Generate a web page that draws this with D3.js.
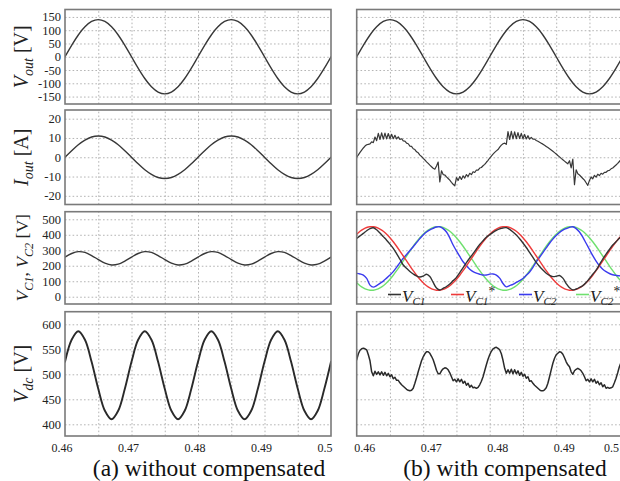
<!DOCTYPE html>
<html><head><meta charset="utf-8">
<script src="https://cdn.jsdelivr.net/npm/d3@7"></script>
<style>body{margin:0;background:#fff}svg{display:block}</style>
</head><body>
<svg id="c" width="620" height="481"></svg>
<script>
// ---------------- DATA ----------------
const xTickVals = [0.46, 0.47, 0.48, 0.49, 0.5];
const xTickLabels = ["0.46", "0.47", "0.48", "0.49", "0.5"];
const xGridVals = [0.465, 0.47, 0.475, 0.48, 0.485, 0.49, 0.495];

const yTicks = [
  [-150, -100, -50, 0, 50, 100, 150],
  [-20, -10, 0, 10, 20],
  [0, 100, 200, 300, 400, 500],
  [400, 450, 500, 550, 600]
];
const yTickLabels = [
  ["-150", "-100", "-50", "0", "50", "100", "150"],
  ["-20", "-10", "0", "10", "20"],
  ["0", "100", "200", "300", "400", "500"],
  ["400", "450", "500", "550", "600"]
];
const yDomains = [[-178, 178], [-24.5, 24.5], [-47, 549], [376.6, 625.2]];

// sample times (s)
const tCoarse = d3.range(41).map(i => 0.46 + i * 0.001);
const tMid = d3.range(81).map(i => 0.46 + i * 0.0005);
const tFine = d3.range(161).map(i => 0.46 + i * 0.00025);

// (a) without compensation
const vOutA = [0,43,82,113,133,140,133,113,82,43,0,-43,-82,-113,-133,-140,-133,-113,-82,-43,
  0,43,82,113,133,140,133,113,82,43,0,-43,-82,-113,-133,-140,-133,-113,-82,-43,0];
const iOutA = [0,3.4,6.5,8.9,10.5,11,10.5,8.9,6.5,3.4,0,-3.4,-6.5,-8.9,-10.5,-11,-10.5,-8.9,-6.5,-3.4,
  0,3.4,6.5,8.9,10.5,11,10.5,8.9,6.5,3.4,0,-3.4,-6.5,-8.9,-10.5,-11,-10.5,-8.9,-6.5,-3.4,0];
const vcA = [256,279,291,286,266,240,217,205,210,230, 256,279,291,286,266,240,217,205,210,230,
  256,279,291,286,266,240,217,205,210,230, 256,279,291,286,266,240,217,205,210,230, 256];
const vdcA = [525,569,586,569,525,471,427,410,427,471, 525,569,586,569,525,471,427,410,427,471,
  525,569,586,569,525,471,427,410,427,471, 525,569,586,569,525,471,427,410,427,471, 525];

// (b) with compensation
const vOutB = vOutA.slice();
const iOutB = [0,1.2,2.5,3.7,4.8,5.8,6.5,6.7,6.9,8.0,
  7.6,10.5,8.6,12.4,9.2,12.6,9.4,12.5,9.5,12.3,
  9.6,11.9,9.6,11.4,9.5,10.6,9.3,9.6,8.5,8.4,
  7.3,7.0,5.8,5.6,4.4,4.0,2.8,2.3,1.1,0.4,
  -0.6,-1.4,-2.4,-3.2,-4.1,-4.9,-5.7,-6.2,-4.5,-2.5,
  -12.8,-7.0,-9.0,-9.2,-10.2,-11.0,-11.9,-13.0,-14.0,-14.8,
  -10.5,-12.0,-10.0,-11.5,-9.6,-10.8,-9.0,-10.0,-8.3,-9.0,
  -7.5,-7.9,-6.6,-6.7,-5.6,-5.3,-4.4,-3.7,-2.6,-1.6,
  -0.4,
  0.6,1.6,2.5,3.3,4.0,5.2,6.3,7.0,7.3,6.7,
  13.3,9.2,13.4,9.5,13.2,9.6,12.8,9.7,12.4,9.6,
  11.8,9.5,11.2,9.4,10.3,9.4,9.4,8.7,8.3,7.8,
  7.3,6.8,6.2,5.6,5.0,4.4,3.8,3.1,2.4,1.7,
  0.9,0.2,-0.6,-1.3,-2.0,-2.7,-3.4,-1.8,-5.5,-1.0,
  -14.2,-6.5,-8.6,-9.2,-10.1,-11.0,-11.9,-13.2,-14.6,-12.0,
  -10.2,-11.2,-9.4,-10.3,-8.8,-9.5,-8.3,-8.8,-7.8,-7.8,
  -7.0,-6.8,-6.0,-5.6,-4.8,-4.0,-3.2,-2.2,-1.2,-0.2];

const vc1B = [377,393,409,426,440,445,432,411,388,365,340,312,278,242,205,183,163,147,134,127,
  133,145,130,92,56,43,54,66,82,104,125,155,188,220,250,278,308,338,362,384,400,
  415,428,438,444,446,435,418,398,374,347,318,286,254,222,195,172,152,138,130,132,
  137,120,85,58,44,50,60,72,92,118,145,172,207,243,275,305,334,355,377,395];
const vc1sB = [404,423,437,447,452,452,447,437,423,404,381,355,326,295,263,231,199,168,139,113,
  90,71,57,47,42,42,47,57,71,90,113,139,168,199,231,263,295,326,355,381,404,
  423,437,447,452,452,447,437,423,404,381,355,326,295,263,231,199,168,139,113,90,
  71,57,47,42,42,47,57,71,90,113,139,168,199,231,263,295,326,355,381,404];
const vc2B = [151,147,140,118,75,62,72,86,101,120,140,162,190,220,248,273,298,323,349,375,
  399,418,432,442,450,452,440,418,380,334,296,260,226,200,178,162,152,145,140,140,146,
  147,140,120,85,64,72,80,92,104,118,138,160,190,225,255,285,315,345,372,395,
  415,430,440,448,452,440,418,385,345,305,265,230,200,178,162,150,142,138,135,135];
const vc2sB = [90,71,57,47,42,42,47,57,71,90,113,139,168,199,231,263,295,326,355,381,
  404,423,437,447,452,452,447,437,423,404,381,355,326,295,263,231,199,168,139,113,90,
  71,57,47,42,42,47,57,71,90,113,139,168,199,231,263,295,326,355,381,404,
  423,437,447,452,452,447,437,423,404,381,355,326,295,263,231,199,168,139,113,90];

const vdcB = [529,541,548,551,552,551,549,539,527,505,497,
  506,500,505,499,505,498,504,497,502,495,499,491,494,488,488,
  483,479,476,473,470,468,467,468,472,482,493,505,516,527,535,541,545,545,542,536,529,519,508,501,501,507,511,513,512,509,503,495,487,
  490,485,491,485,490,482,486,478,482,474,478,473,474,
  472,474,479,486,495,507,519,530,539,546,551,553,554,552,549,541,528,512,502,
  509,502,510,501,509,501,507,498,504,496,500,492,495,486,487,
  482,478,475,472,469,467,467,469,473,482,495,509,522,532,539,542,545,544,540,533,525,519,515,505,500,507,510,512,510,507,502,495,487,
  490,485,491,485,490,482,486,479,483,475,479,472,474,
  472,473,475,483,492,503,515,524,532];

const legendSeries = ["C1", "C1", "C2", "C2"];
const legendStar = ["", "*", "", "*"];
const legendColors = ["#333333", "#ee3b3b", "#3b3bee", "#6fe06f"];

const rowTitles = [
  [["V", "i"], ["out", "sub"], [" [V]", ""]],
  [["I", "i"], ["out", "sub"], [" [A]", ""]],
  [["V", "i"], ["C1", "sub"], [", ", ""], ["V", "i"], ["C2", "sub"], [" [V]", ""]],
  [["V", "i"], ["dc", "sub"], [" [V]", ""]]
];
const captions = ["(a) without compensated", "(b) with compensated"];

// ---------------- LAYOUT ----------------
const svg = d3.select("#c");
const FONT = "'Liberation Serif','Times New Roman',serif";
const colX = [65, 356.7], colW = 266;
const rows = [[9.5, 104], [110, 204.5], [211.7, 304], [311.7, 436]];
const traceColor = "#383838";

const defs = svg.append("defs");

function panel(col, row) {
  const x = d3.scaleLinear().domain([0.46, 0.5]).range([colX[col], colX[col] + colW]);
  const y = d3.scaleLinear().domain(yDomains[row]).range([rows[row][1], rows[row][0]]);
  const id = "clip" + col + row;
  defs.append("clipPath").attr("id", id).append("rect")
    .attr("x", colX[col]).attr("y", rows[row][0]).attr("width", colW).attr("height", rows[row][1] - rows[row][0]);
  const g = svg.append("g");
  g.append("g").attr("transform", `translate(0,${rows[row][1]})`)
    .call(d3.axisBottom(x).tickValues(xGridVals).tickSize(-(rows[row][1] - rows[row][0])).tickFormat(""))
    .call(s => { s.select(".domain").remove(); s.selectAll("line").attr("stroke", "#b4b4b4").attr("stroke-dasharray", "1.6,2.2"); });
  g.append("g").attr("transform", `translate(${colX[col]},0)`)
    .call(d3.axisLeft(y).tickValues(yTicks[row]).tickSize(-colW).tickFormat(""))
    .call(s => { s.select(".domain").remove(); s.selectAll("line").attr("stroke", "#b4b4b4").attr("stroke-dasharray", "1.6,2.2"); });
  const plot = g.append("g").attr("clip-path", `url(#${id})`);
  return { x, y, g, plot };
}

function line(p, xs, ys, color, w, curve) {
  const pts = ys.map((v, i) => [xs[i], v]).filter(d => d[0] !== undefined);
  p.plot.append("path").datum(pts)
    .attr("d", d3.line().x(d => p.x(d[0])).y(d => p.y(d[1])).curve(curve || d3.curveLinear))
    .attr("fill", "none").attr("stroke", color).attr("stroke-width", w)
    .attr("stroke-linejoin", "round").attr("stroke-linecap", "round");
}

function frame(col, row) {
  svg.append("rect").attr("x", colX[col]).attr("y", rows[row][0])
    .attr("width", colW).attr("height", rows[row][1] - rows[row][0])
    .attr("fill", "none").attr("stroke", "#7a7a7a").attr("stroke-width", 1.6);
}

const P = [];
for (let r = 0; r < 4; r++) { P.push([panel(0, r), panel(1, r)]); }

const cr = d3.curveCatmullRom.alpha(0.5);
line(P[0][0], tCoarse, vOutA, traceColor, 1.4, cr);
line(P[1][0], tCoarse, iOutA, traceColor, 1.4, cr);
line(P[2][0], tCoarse, vcA, traceColor, 1.4, cr);
line(P[3][0], tCoarse, vdcA, "#2a2a2a", 1.9, cr);
line(P[0][1], tCoarse, vOutB, traceColor, 1.4, cr);
line(P[1][1], tFine, iOutB, traceColor, 1.2);
line(P[2][1], tMid, vc2sB, legendColors[3], 1.4, cr);
line(P[2][1], tMid, vc2B, legendColors[2], 1.4, cr);
line(P[2][1], tMid, vc1sB, legendColors[1], 1.4, cr);
line(P[2][1], tMid, vc1B, legendColors[0], 1.4, cr);
line(P[3][1], tFine, vdcB, "#2a2a2a", 1.5);

for (let r = 0; r < 4; r++) { frame(0, r); frame(1, r); }

// y tick labels (left column only)
for (let r = 0; r < 4; r++) {
  const y = P[r][0].y;
  svg.append("g").selectAll("text").data(yTicks[r]).join("text")
    .attr("x", colX[0] - 4).attr("y", d => y(d)).attr("dy", "0.36em")
    .attr("text-anchor", "end").attr("font-family", FONT).attr("font-size", 12.5).attr("fill", "#222")
    .text((d, i) => yTickLabels[r][i]);
}

// x tick labels under bottom row
[[0, -3], [1, 8]].forEach(([c, dx]) => {
  const x = P[3][c].x;
  const last = xTickVals.length - 1;
  svg.append("g").selectAll("text").data(xTickVals).join("text")
    .attr("x", (d, i) => i === last ? (c === 0 ? x(d) - 6 : 619) : x(d) + dx)
    .attr("y", 452)
    .attr("text-anchor", (d, i) => (i === last && c === 1) ? "end" : "middle")
    .attr("font-family", FONT).attr("font-size", 12).attr("fill", "#222")
    .text((d, i) => xTickLabels[i]);
});

// rotated row titles
rowTitles.forEach((parts, r) => {
  const cy = (rows[r][0] + rows[r][1]) / 2;
  const t = svg.append("text").attr("transform", `translate(28,${cy}) rotate(-90)`)
    .attr("text-anchor", "middle").attr("font-family", FONT)
    .attr("font-size", r === 2 ? 17.5 : 20).attr("fill", "#222");
  let shifted = false;
  parts.forEach(([s, k]) => {
    const ts = t.append("tspan").text(s);
    if (k === "i") ts.attr("font-style", "italic");
    if (k === "sub") { ts.attr("font-style", "italic").attr("font-size", "70%").attr("dy", 5); shifted = true; }
    else if (shifted) { ts.attr("dy", -5); shifted = false; }
  });
});

// legend in (b) capacitor voltage panel
const legX = [388, 451, 519, 576];
const legY = 294.5;
legendSeries.forEach((s, i) => {
  svg.append("line").attr("x1", legX[i]).attr("x2", legX[i] + 13).attr("y1", legY).attr("y2", legY)
    .attr("stroke", legendColors[i]).attr("stroke-width", 1.6);
  const t = svg.append("text").attr("x", legX[i] + 14).attr("y", legY + 7)
    .attr("font-family", FONT).attr("font-size", 17).attr("fill", "#222").attr("font-style", "italic");
  t.append("tspan").text("V");
  t.append("tspan").text(s).attr("font-size", "66%").attr("dy", 3);
  if (legendStar[i]) t.append("tspan").text(legendStar[i]).attr("font-size", "80%").attr("dy", -9).attr("font-style", "normal");
});

// captions
svg.append("text").attr("x", 209).attr("y", 476).attr("text-anchor", "middle")
  .attr("font-family", FONT).attr("font-size", 23.5).attr("fill", "#111").text(captions[0]);
svg.append("text").attr("x", 505).attr("y", 476).attr("text-anchor", "middle")
  .attr("font-family", FONT).attr("font-size", 23.5).attr("fill", "#111").text(captions[1]);
</script>
</body></html>
